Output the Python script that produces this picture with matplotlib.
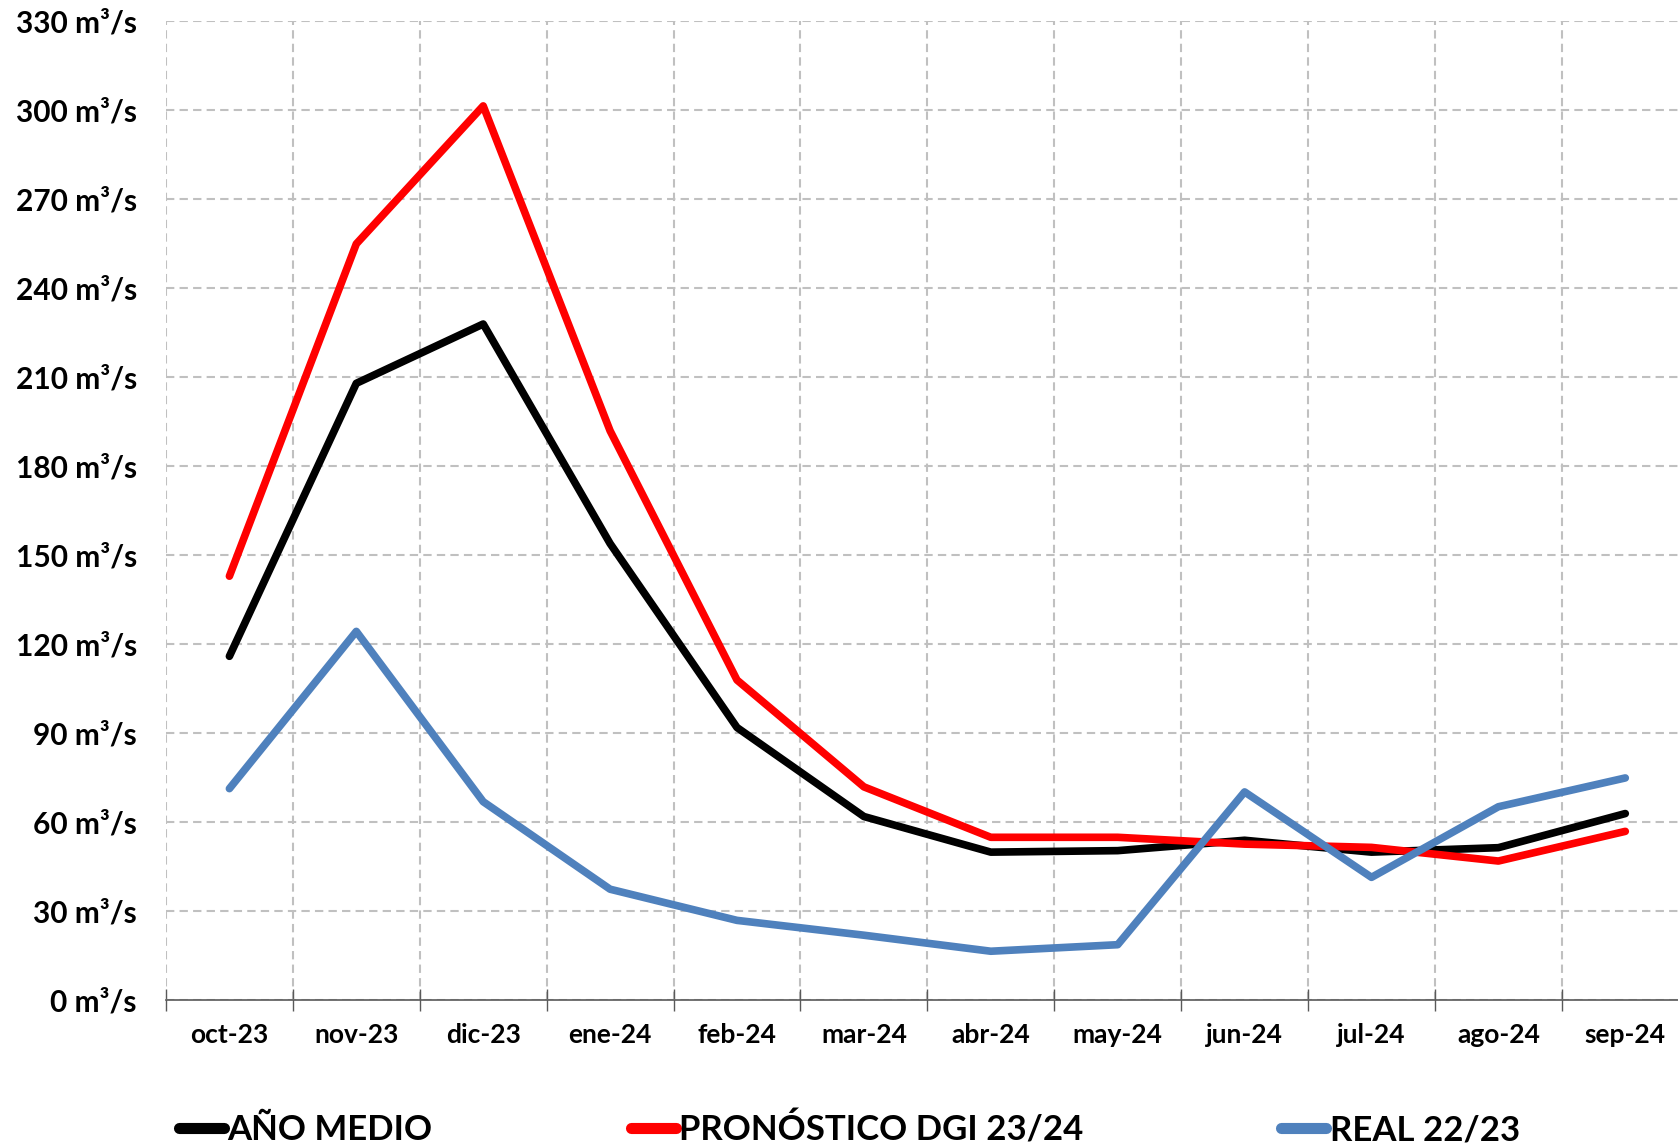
import matplotlib.pyplot as plt
from matplotlib.ticker import FixedLocator, NullFormatter

plt.rcParams['font.family'] = ['Lato', 'DejaVu Sans']

months = ['oct-23', 'nov-23', 'dic-23', 'ene-24', 'feb-24', 'mar-24',
          'abr-24', 'may-24', 'jun-24', 'jul-24', 'ago-24', 'sep-24']
ano_medio = [116, 208, 228, 154, 92, 62, 50, 50.5, 54, 50, 51.5, 63]
pronostico = [143, 255, 301.5, 192, 108, 72, 55, 55, 52.7, 51.6, 47, 57]
real = [71.4, 124.4, 67, 37.5, 27, 22, 16.6, 18.8, 70.3, 41.5, 65.3, 75]
yticks = list(range(0, 331, 30))

fig = plt.figure(figsize=(16.78, 11.48), dpi=100)
ax = fig.add_axes([0.0989, 0.1285, 0.9075, 0.8529])

x = list(range(len(months)))
ax.plot(x, ano_medio, color='black', lw=5.5, solid_capstyle='round',
        solid_joinstyle='round', label='AÑO MEDIO', zorder=3)
ax.plot(x, pronostico, color='#ff0000', lw=5.5, solid_capstyle='round',
        solid_joinstyle='round', label='PRONÓSTICO DGI 23/24', zorder=3)
ax.plot(x, real, color='#4f81bd', lw=5.5, solid_capstyle='round',
        solid_joinstyle='round', label='REAL 22/23', zorder=3)

ax.set_xlim(-0.5, len(months) - 0.5)
ax.set_ylim(0, 330)

# boundaries between months carry ticks and vertical grid, centres carry labels
ax.xaxis.set_major_locator(FixedLocator([i - 0.5 for i in range(len(months) + 1)]))
ax.xaxis.set_major_formatter(NullFormatter())
ax.xaxis.set_minor_locator(FixedLocator(x))
ax.set_xticklabels(months, minor=True)
ax.tick_params(axis='x', which='major', direction='inout', length=16,
               width=1, color='#595959')
ax.tick_params(axis='x', which='minor', length=0, pad=16, labelsize=19)
for lab in ax.get_xticklabels(minor=True):
    lab.set_fontweight('bold')

ax.set_yticks(yticks)
ax.set_yticklabels([f'{v} m³/s' for v in yticks])
ax.tick_params(axis='y', length=0, pad=21, labelsize=21.5)
for lab in ax.get_yticklabels():
    lab.set_fontweight('bold')

ax.grid(True, which='major', color='#c0c0c0', lw=1.5, ls=(0, (4, 2.5)))
ax.set_axisbelow(True)

for side in ['left', 'right', 'top']:
    ax.spines[side].set_visible(False)
ax.spines['bottom'].set_color('#595959')
ax.spines['bottom'].set_linewidth(1.2)

leg = fig.legend(loc='center left', bbox_to_anchor=(0.088, 0.0165), ncol=3,
                 frameon=False, handlelength=1.3, handletextpad=0.1,
                 columnspacing=5.7, prop={'size': 25, 'weight': 'bold'})
for h in leg.get_lines():
    h.set_linewidth(8)

fig.savefig('out.png', dpi=100)
